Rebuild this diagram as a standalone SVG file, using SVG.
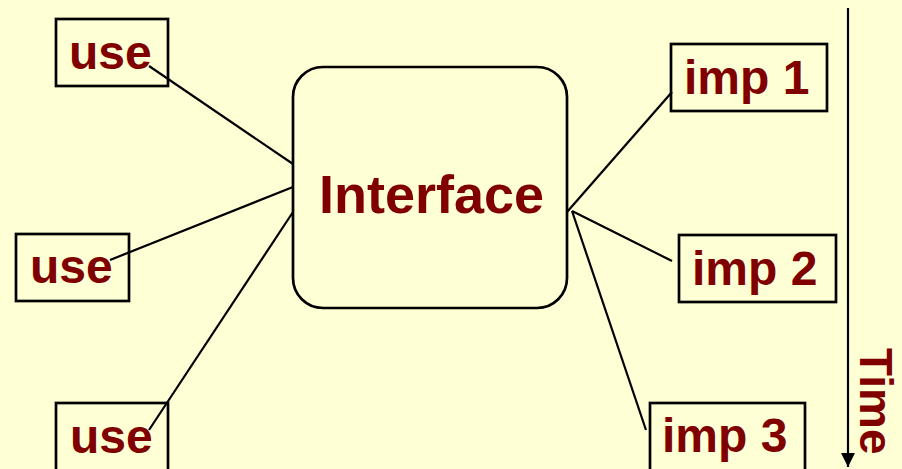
<svg xmlns="http://www.w3.org/2000/svg" width="902" height="469" viewBox="0 0 902 469">
<defs>
<style>
.box{fill:#FFFFD6;stroke:#000;stroke-width:2.7}
.lbl{font-family:"Liberation Sans",Arial,sans-serif;font-weight:bold;font-size:48px;fill:#800000}
.big{font-size:54px}
.tm{font-size:46px}
.con line{stroke:#000;stroke-width:2.2;fill:none}
</style>
<marker id="ah" viewBox="0 0 10 10" refX="10" refY="5" markerWidth="14" markerHeight="14" markerUnits="userSpaceOnUse" orient="auto">
<path d="M0,0 L10,5 L0,10 z" fill="#000"/>
</marker>
</defs>
<rect x="0" y="0" width="902" height="469" fill="#FFFFD6"/>
<g id="interface">
<rect class="box" x="293" y="67" width="274" height="241" rx="30" ry="30"/>
<text class="lbl big" x="319" y="213">Interface</text>
</g>
<g id="use1">
<rect class="box" x="56" y="19" width="112" height="67"/>
<text class="lbl" x="69" y="69">use</text>
</g>
<g id="use2">
<rect class="box" x="16" y="234" width="113" height="67"/>
<text class="lbl" x="30" y="283">use</text>
</g>
<g id="use3">
<rect class="box" x="56" y="403" width="112" height="70"/>
<text class="lbl" x="70" y="453">use</text>
</g>
<g id="imp1">
<rect class="box" x="671" y="44" width="156" height="67"/>
<text class="lbl" x="684" y="94">imp 1</text>
</g>
<g id="imp2">
<rect class="box" x="679" y="235" width="157" height="67"/>
<text class="lbl" x="692" y="285">imp 2</text>
</g>
<g id="imp3">
<rect class="box" x="650" y="403" width="155" height="70"/>
<text class="lbl" x="662" y="452">imp 3</text>
</g>
<g id="connectors" class="con">
<line x1="149" y1="66" x2="293" y2="164"/>
<line x1="110" y1="260" x2="293" y2="187"/>
<line x1="149" y1="430" x2="293" y2="212"/>
<line x1="672" y1="92" x2="567" y2="212"/>
<line x1="572" y1="211" x2="672" y2="261"/>
<line x1="572" y1="211" x2="646" y2="430"/>
<line x1="848" y1="8" x2="848" y2="467" marker-end="url(#ah)"/>
</g>
<g id="time">
<text class="lbl tm" transform="translate(860,348) rotate(90)">Time</text>
</g>
</svg>
